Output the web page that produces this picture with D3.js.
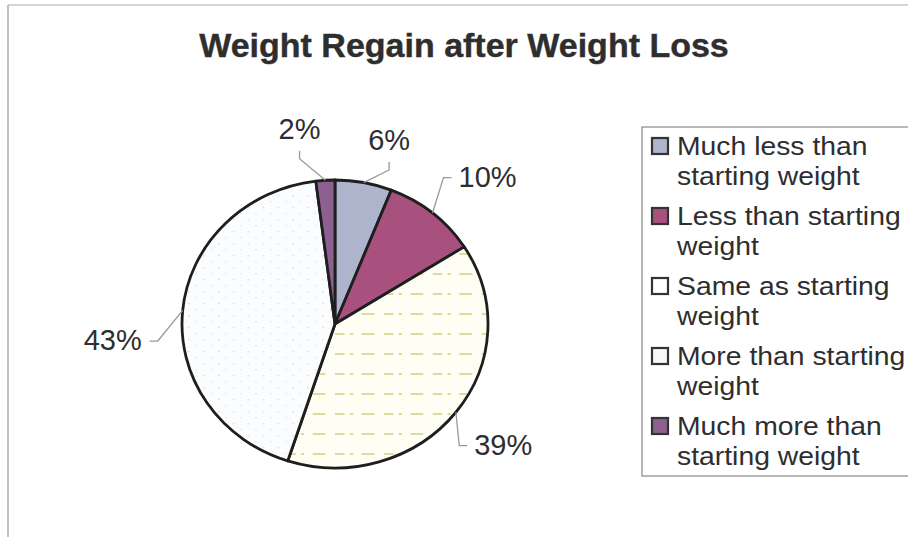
<!DOCTYPE html>
<html>
<head>
<meta charset="utf-8">
<script src="https://cdn.jsdelivr.net/npm/d3@7.9.0/dist/d3.min.js"></script>
<style>
  html, body { margin: 0; padding: 0; background: #fff; }
  svg { display: block; font-family: "Liberation Sans", Arial, sans-serif; }
</style>
</head>
<body>
<svg id="chart" width="908" height="537"></svg>
<script>
// data
const title = "Weight Regain after Weight Loss";
const categories = [
  "Much less than starting weight",
  "Less than starting weight",
  "Same as starting weight",
  "More than starting weight",
  "Much more than starting weight"
];
const legendLines = [
  ["Much less than", "starting weight"],
  ["Less than starting", "weight"],
  ["Same as starting", "weight"],
  ["More than starting", "weight"],
  ["Much more than", "starting weight"]
];
const values = [6, 10, 39, 43, 2];

// look
const sliceFills = ["#adb4cc", "#a8517e", "url(#same)", "url(#more)", "#8e6091"];
const swatchFills = ["#adb4cc", "#a8517e", "#ffffff", "#f6f8fa", "#8e6091"];
const labelNudge = [[14, 14], [16, 8], [-1, -3], [-9, 35], [-22, 6]];

const svg = d3.select("#chart");
const cx = 335, cy = 324, ry = 144, rx = 153;
const sx = rx / ry;

// patterns for the two light slices
const defs = svg.append("defs");
const pSame = defs.append("pattern").attr("id", "same")
  .attr("patternUnits", "userSpaceOnUse").attr("width", 46).attr("height", 20);
pSame.append("rect").attr("width", 46).attr("height", 20).attr("fill", "#fefef4");
pSame.append("line").attr("x1", 0).attr("x2", 46).attr("y1", 10).attr("y2", 10)
  .attr("stroke", "#d4ce80").attr("stroke-width", 1.6).attr("stroke-dasharray", "9 5 3 8 12 9");
const pMore = defs.append("pattern").attr("id", "more")
  .attr("patternUnits", "userSpaceOnUse").attr("width", 14).attr("height", 12);
pMore.append("rect").attr("width", 14).attr("height", 12).attr("fill", "#fbfcfd");
pMore.append("rect").attr("x", 2).attr("y", 3).attr("width", 1.2).attr("height", 1.2).attr("fill", "#c9d7e4");
pMore.append("rect").attr("x", 9).attr("y", 9).attr("width", 1.2).attr("height", 1.2).attr("fill", "#d3dfea");

// frame
svg.append("line").attr("x1", 8).attr("x2", 8).attr("y1", 5).attr("y2", 537)
  .attr("stroke", "#999").attr("stroke-width", 1.2);
svg.append("line").attr("x1", 8).attr("x2", 908).attr("y1", 5).attr("y2", 5)
  .attr("stroke", "#aaa").attr("stroke-width", 1.2);

// title
svg.append("text")
  .attr("x", 464).attr("y", 57)
  .attr("text-anchor", "middle")
  .attr("font-size", 34).attr("font-weight", "bold")
  .attr("fill", "#2e2e2e")
  .attr("stroke", "#2e2e2e").attr("stroke-width", 0.4)
  .text(title);

// pie
const data = categories.map((c, i) => ({ label: c, value: values[i], i }));
const pie = d3.pie().sort(null).value(d => d.value);
const arcs = pie(data);
const arc = d3.arc().innerRadius(0).outerRadius(ry);
const edgeArc = d3.arc().innerRadius(ry).outerRadius(ry);
const labelArc = d3.arc().innerRadius(ry * 1.4).outerRadius(ry * 1.4);

const pieG = svg.append("g").attr("transform", `translate(${cx},${cy}) scale(${sx},1)`);
pieG.selectAll("path")
  .data(arcs)
  .join("path")
  .attr("d", arc)
  .attr("fill", d => sliceFills[d.data.i])
  .attr("stroke", "#1e1e1e")
  .attr("stroke-width", 2.8)
  .attr("stroke-linejoin", "round")
  .attr("vector-effect", "non-scaling-stroke");

// labels + leader lines
arcs.forEach(d => {
  const [lx0, ly0] = labelArc.centroid(d);
  const lx = cx + lx0 * sx + labelNudge[d.data.i][0];
  const ly = cy + ly0 + labelNudge[d.data.i][1];
  const t = svg.append("text")
    .attr("x", lx).attr("y", ly).attr("dy", "0.35em")
    .attr("text-anchor", "middle")
    .attr("font-size", 29).attr("fill", "#2e2e2e")
    .text(d3.format(".0%")(d.value / 100));
  const hw = t.node().getComputedTextLength() / 2;
  const [ex0, ey0] = edgeArc.centroid(d);
  const ex = cx + ex0 * sx, ey = cy + ey0;
  let pts;
  if (ly < cy - ry * 1.1) {
    pts = [[lx, ly + 22], [lx, ly + 30], [ex, ey]];
  } else if (lx > cx) {
    pts = [[lx - hw - 7, ly + 1], [lx - hw - 15, ly + 1], [ex, ey]];
  } else {
    pts = [[lx + hw + 8, ly + 1], [lx + hw + 16, ly + 1], [ex, ey]];
  }
  svg.append("path")
    .attr("d", d3.line()(pts))
    .attr("fill", "none").attr("stroke", "#999").attr("stroke-width", 1.3);
});

// legend
const lg = svg.append("g");
lg.append("rect").attr("x", 642).attr("y", 127).attr("width", 300).attr("height", 349)
  .attr("fill", "none").attr("stroke", "#888").attr("stroke-width", 1.2);
const legendY = d3.scaleLinear().domain([0, 1]).range([155, 225]);
legendLines.forEach((lines, i) => {
  const y = legendY(i);
  lg.append("rect").attr("x", 652).attr("y", y - 17).attr("width", 16).attr("height", 16)
    .attr("fill", swatchFills[i]).attr("stroke", "#333").attr("stroke-width", 2.2);
  lines.forEach((s, j) => {
    lg.append("text")
      .attr("transform", `translate(677,${y + j * 30}) scale(1.09,1)`)
      .attr("font-size", 26).attr("fill", "#2e2e2e")
      .text(s);
  });
});
</script>
</body>
</html>
